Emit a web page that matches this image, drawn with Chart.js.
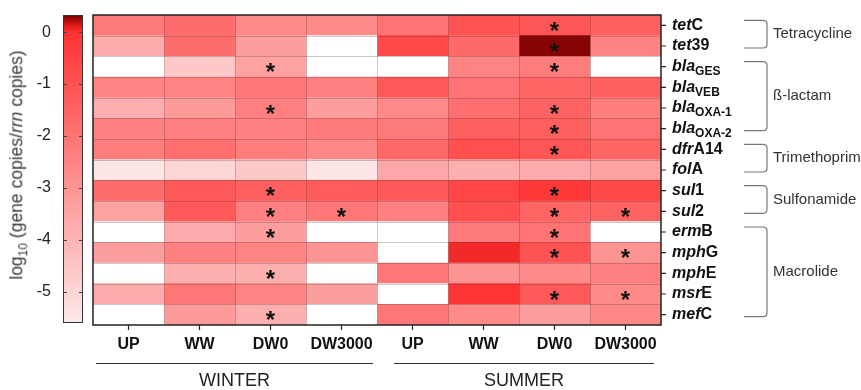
<!DOCTYPE html>
<html>
<head>
<meta charset="utf-8">
<script src="https://cdn.jsdelivr.net/npm/chart.js@4.4.1/dist/chart.umd.min.js"></script>
<style>
  html, body { margin: 0; padding: 0; background: #fff; width: 861px; height: 390px; overflow: hidden; }
  #heat { position: absolute; left: 0; top: 0; }
  #scalebar { position: absolute; left: 20px; top: 0; }
  #ytitle {
    position: absolute; left: 18px; top: 165px;
    transform: translate(-50%, -50%) rotate(-90deg);
    white-space: nowrap; font: 17.5px "Liberation Sans", Arial, sans-serif; color: #3a3a3a;
  }
  #ytitle sub { font-size: 12px; }
</style>
</head>
<body>
<canvas id="heat" width="861" height="390"></canvas>
<canvas id="scalebar" width="64" height="390"></canvas>
<div id="ytitle">log<sub>10</sub> (gene copies/<i>rrn</i> copies)</div>
<script>
// Resistance genes (rows)
const genes = ['tetC', 'tet39', 'blaGES', 'blaVEB', 'blaOXA-1', 'blaOXA-2', 'dfrA14', 'folA',
               'sul1', 'sul2', 'ermB', 'mphG', 'mphE', 'msrE', 'mefC'];
// Sampling sites and seasons (columns)
const sites = ['UP', 'WW', 'DW0', 'DW3000'];
const seasons = ['WINTER', 'SUMMER'];

// log10(gene copies / rrn copies); null = not detected
const winterUP     = [-2.2, -3.7, null, -2.5, -3.8, -2.4, -2.3, -5.5, -1.8, -3.4, null, -3.3, null, -3.7, null];
const winterWW     = [-1.8, -1.8, -4.6, -2.5, -3.2, -2.4, -1.9, -5.0, -1.2, -1.2, -3.7, -2.4, -3.8, -2.1, -3.2];
const winterDW0    = [-2.7, -3.3, -3.4, -2.1, -2.4, -2.4, -2.3, -4.6, -1.4, -2.4, -3.3, -2.5, -3.8, -2.5, -3.8];
const winterDW3000 = [-2.7, null, null, -2.4, -3.3, -2.2, -2.6, -5.5, -1.3, -2.1, null, -3.0, null, -3.3, null];
const summerUP     = [-2.0, -0.7, null, -1.2, -2.7, -2.2, -1.7, -3.6, -1.2, -2.4, null, null, -2.1, null, -2.1];
const summerWW     = [-1.0, -1.7, -2.5, -2.0, -1.9, -1.4, -0.9, -3.8, -0.6, -0.9, -2.2, 0.05, -3.0, -0.1, -2.7];
const summerDW0    = [-1.1, 0.3, -2.3, -1.6, -1.5, -1.4, -1.1, -3.7, -0.2, -1.6, -2.0, -1.0, -2.7, -1.2, -3.3];
const summerDW3000 = [-1.4, -2.5, null, -1.4, -2.3, -2.0, -1.6, -3.4, -0.7, -1.5, null, -3.0, -2.4, -2.7, -2.6];

// Genes marked as significantly different from upstream
const winterDW0Sig    = ['blaGES', 'blaOXA-1', 'sul1', 'sul2', 'ermB', 'mphE', 'mefC'];
const winterDW3000Sig = ['sul2'];
const summerDW0Sig    = ['tetC', 'tet39', 'blaGES', 'blaOXA-1', 'blaOXA-2', 'dfrA14', 'sul1', 'sul2', 'ermB', 'mphG', 'msrE'];
const summerDW3000Sig = ['sul2', 'mphG', 'msrE'];

// Antibiotic classes: name, first gene, last gene
const geneClasses = [
  ['Tetracycline', 'tetC', 'tet39'],
  ['ß-lactam', 'blaGES', 'blaOXA-2'],
  ['Trimethoprim', 'dfrA14', 'folA'],
  ['Sulfonamide', 'sul1', 'sul2'],
  ['Macrolide', 'ermB', 'mefC']
];

// Colour scale
const scaleTicks = [0, -1, -2, -3, -4, -5];
const scaleMin = -5.6;
const scaleMax = 0.33;

const columns = [
  { season: 'WINTER', site: 'UP',     values: winterUP,     sig: [] },
  { season: 'WINTER', site: 'WW',     values: winterWW,     sig: [] },
  { season: 'WINTER', site: 'DW0',    values: winterDW0,    sig: winterDW0Sig },
  { season: 'WINTER', site: 'DW3000', values: winterDW3000, sig: winterDW3000Sig },
  { season: 'SUMMER', site: 'UP',     values: summerUP,     sig: [] },
  { season: 'SUMMER', site: 'WW',     values: summerWW,     sig: [] },
  { season: 'SUMMER', site: 'DW0',    values: summerDW0,    sig: summerDW0Sig },
  { season: 'SUMMER', site: 'DW3000', values: summerDW3000, sig: summerDW3000Sig }
];

const FONT = '"Liberation Sans", Arial, sans-serif';

// white-to-red ramp with a dark red top end
const rampStops = [
  [scaleMin, [252, 233, 233]],
  [0,        [255, 50, 50]],
  [0.15,     [212, 22, 22]],
  [scaleMax, [118, 0, 0]]
];
function rampColor(v) {
  if (v === null) return '#ffffff';
  if (v <= rampStops[0][0]) return 'rgb(' + rampStops[0][1].join(',') + ')';
  for (let i = 1; i < rampStops.length; i++) {
    const [v1, c1] = rampStops[i];
    const [v0, c0] = rampStops[i - 1];
    if (v <= v1) {
      const t = (v - v0) / (v1 - v0);
      const c = c0.map((a, k) => Math.round(a + (c1[k] - a) * t));
      return 'rgb(' + c.join(',') + ')';
    }
  }
  return 'rgb(' + rampStops[rampStops.length - 1][1].join(',') + ')';
}

function geneParts(name) {
  const m = name.match(/^([a-z]+)(.*)$/);
  if (m[1] === 'bla') return [{ t: 'bla', it: true }, { t: m[2], sub: true }];
  return [{ t: m[1], it: true }, { t: m[2] }];
}

// Decorations of the heat map: cell grid, frame, gene labels, site labels, marks, class brackets
const heatDecor = {
  id: 'heatDecor',
  afterDatasetsDraw(chart) {
    const { ctx, chartArea: a, scales: { x, y } } = chart;
    const rowY = i => y.getPixelForValue(i);
    const half = (rowY(1) - rowY(0)) / 2;
    ctx.save();

    // cell grid
    ctx.strokeStyle = 'rgba(90,50,50,0.28)';
    ctx.lineWidth = 1;
    ctx.beginPath();
    for (let c = 1; c < columns.length; c++) {
      const px = Math.round(x.getPixelForValue(c)) + 0.5;
      ctx.moveTo(px, a.top); ctx.lineTo(px, a.bottom);
    }
    for (let r = 1; r < genes.length; r++) {
      const py = Math.round(rowY(r) - half) + 0.5;
      ctx.moveTo(a.left, py); ctx.lineTo(a.right, py);
    }
    ctx.stroke();

    // frame
    ctx.strokeStyle = '#222';
    ctx.lineWidth = 1.5;
    ctx.strokeRect(a.left, a.top, a.right - a.left, a.bottom - a.top);

    // tick marks
    ctx.lineWidth = 1.2;
    ctx.beginPath();
    genes.forEach((g, i) => { ctx.moveTo(a.right, rowY(i)); ctx.lineTo(a.right + 5, rowY(i)); });
    columns.forEach((c, i) => {
      const px = x.getPixelForValue(i + 0.5);
      ctx.moveTo(px, a.bottom); ctx.lineTo(px, a.bottom + 5);
    });
    ctx.stroke();

    // significance marks
    ctx.fillStyle = '#111';
    ctx.font = 'bold 24px ' + FONT;
    ctx.textAlign = 'center';
    ctx.textBaseline = 'alphabetic';
    const sm = ctx.measureText('*');
    const starShift = (sm.actualBoundingBoxAscent - sm.actualBoundingBoxDescent) / 2;
    columns.forEach((col, ci) => {
      col.sig.forEach(g => {
        const ri = genes.indexOf(g);
        ctx.fillText('*', x.getPixelForValue(ci + 0.5), rowY(ri) + starShift + 1);
      });
    });

    // gene labels
    ctx.textAlign = 'left';
    ctx.textBaseline = 'middle';
    genes.forEach((g, i) => {
      let px = a.right + 11;
      const py = rowY(i);
      geneParts(g).forEach(p => {
        if (!p.t) return;
        ctx.font = (p.it ? 'italic ' : '') + 'bold ' + (p.sub ? 12 : 16) + 'px ' + FONT;
        ctx.fillText(p.t, px, p.sub ? py + 5 : py);
        px += ctx.measureText(p.t).width;
      });
    });

    // site labels
    ctx.font = 'bold 16px ' + FONT;
    ctx.textAlign = 'center';
    columns.forEach((col, i) => ctx.fillText(col.site, x.getPixelForValue(i + 0.5), a.bottom + 20));

    // season lines and names
    ctx.strokeStyle = '#333';
    ctx.lineWidth = 1;
    ctx.font = '18px ' + FONT;
    ctx.fillStyle = '#222';
    seasons.forEach((s, si) => {
      const first = columns.findIndex(c => c.season === s);
      const n = columns.filter(c => c.season === s).length;
      const x0 = x.getPixelForValue(first) + (si === 0 ? 3 : 17);
      const x1 = x.getPixelForValue(first + n) - (si === 0 ? 4 : 7);
      const ly = a.bottom + 38.5;
      ctx.beginPath(); ctx.moveTo(x0, ly); ctx.lineTo(x1, ly); ctx.stroke();
      ctx.fillText(s, (x0 + x1) / 2, a.bottom + 56);
    });

    // class brackets
    ctx.strokeStyle = '#777';
    ctx.lineWidth = 1.2;
    ctx.fillStyle = '#333';
    ctx.font = '15px ' + FONT;
    ctx.textAlign = 'left';
    const bx0 = a.right + 83, bx1 = a.right + 106, rad = 4;
    geneClasses.forEach(([name, g0, g1]) => {
      const top = rowY(genes.indexOf(g0)) - 5;
      const bot = rowY(genes.indexOf(g1)) + 2;
      ctx.beginPath();
      ctx.moveTo(bx0, top);
      ctx.lineTo(bx1 - rad, top);
      ctx.quadraticCurveTo(bx1, top, bx1, top + rad);
      ctx.lineTo(bx1, bot - rad);
      ctx.quadraticCurveTo(bx1, bot, bx1 - rad, bot);
      ctx.lineTo(bx0, bot);
      ctx.stroke();
      ctx.fillText(name, bx1 + 6, (top + bot) / 2);
    });
    ctx.restore();
  }
};

new Chart(document.getElementById('heat'), {
  type: 'bar',
  data: {
    labels: genes,
    datasets: columns.map((col, ci) => ({
      label: col.season + ' ' + col.site,
      data: genes.map(() => [ci, ci + 1]),
      backgroundColor: col.values.map(rampColor),
      borderWidth: 0,
      grouped: false,
      barPercentage: 1,
      categoryPercentage: 1
    }))
  },
  options: {
    indexAxis: 'y',
    responsive: false,
    animation: false,
    events: [],
    layout: { padding: { left: 93, top: 15, right: 200, bottom: 65 } },
    plugins: { legend: { display: false }, tooltip: { enabled: false } },
    scales: {
      x: { type: 'linear', min: 0, max: columns.length, display: false },
      y: { type: 'category', display: false, offset: true }
    }
  },
  plugins: [heatDecor]
});

// Colour key
const keyMarks = {
  id: 'keyMarks',
  afterDatasetsDraw(chart) {
    const { ctx, chartArea: a, scales: { y } } = chart;
    ctx.save();
    ctx.strokeStyle = '#444';
    ctx.lineWidth = 1;
    ctx.beginPath();
    scaleTicks.forEach(v => {
      const py = Math.round(y.getPixelForValue(v)) + 0.5;
      ctx.moveTo(a.left, py); ctx.lineTo(a.left + 4, py);
      ctx.moveTo(a.right - 4, py); ctx.lineTo(a.right, py);
    });
    ctx.stroke();
    ctx.restore();
  }
};

new Chart(document.getElementById('scalebar'), {
  type: 'bar',
  data: {
    labels: [''],
    datasets: [{
      data: [[scaleMin, scaleMax]],
      backgroundColor(c) {
        const chart = c.chart;
        const ys = chart.scales.y;
        if (!chart.chartArea || !ys) return '#f88';
        const g = chart.ctx.createLinearGradient(0, ys.getPixelForValue(scaleMin), 0, ys.getPixelForValue(scaleMax));
        rampStops.forEach(([v]) => g.addColorStop((v - scaleMin) / (scaleMax - scaleMin), rampColor(v)));
        return g;
      },
      borderColor: '#333',
      borderWidth: 1.3,
      borderSkipped: false,
      barPercentage: 1,
      categoryPercentage: 1
    }]
  },
  options: {
    responsive: false,
    animation: false,
    events: [],
    layout: { padding: { left: 0, top: 15, right: 1, bottom: 67 } },
    plugins: { legend: { display: false }, tooltip: { enabled: false } },
    scales: {
      x: { display: false },
      y: {
        min: scaleMin, max: scaleMax,
        grid: { display: false, drawTicks: false },
        border: { display: false },
        afterBuildTicks(scale) { scale.ticks = scaleTicks.map(v => ({ value: v })); },
        afterFit(scale) { scale.width = 43; scale.paddingTop = 0; scale.paddingBottom = 0; },
        ticks: { color: '#222', padding: 12, font: { size: 16, family: FONT } }
      }
    }
  },
  plugins: [keyMarks]
});
</script>
</body>
</html>
